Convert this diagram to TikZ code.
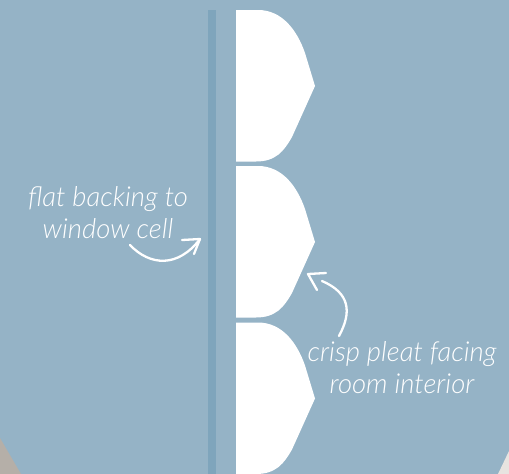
\documentclass[tikz,border=0pt]{standalone}
\usepackage{fontspec}
\setmainfont{Lato Light}
\definecolor{bgblue}{HTML}{95B3C6}
\definecolor{barblue}{HTML}{7FA5BC}
\definecolor{cornergray}{HTML}{B5AFA8}
\definecolor{cornerlight}{HTML}{E8E4E0}
\tikzset{
  pleat/.style={fill=white,draw=none},
  lbl/.style={text=white,font=\fontsize{27.5}{32}\selectfont\itshape,align=center,inner sep=0pt},
  callout/.style={draw=white,line width=2.3pt,line cap=round,line join=round}
}
\newcommand{\pleatshape}[1]{%
  \begin{scope}[yshift=-#1pt]
  \fill[pleat] (236,10) -- (258,10) .. controls (282,10) and (297,30) .. (305,53)
    -- (315,86) -- (292,137) .. controls (284,151) and (276,161.5) .. (256,161.5) -- (236,161.5) -- cycle;
  \end{scope}}
\begin{document}
\begin{tikzpicture}[x=1pt,y=-1pt]
\useasboundingbox (0,0) rectangle (509,474);
\fill[bgblue] (0,0) rectangle (509,474);
\fill[cornergray] (0,438) -- (21,474) -- (0,474) -- cycle;
\fill[cornerlight] (509,451) -- (498,474) -- (509,474) -- cycle;
\fill[barblue] (208,10) rectangle (215.7,474);
\pleatshape{0}
\pleatshape{156}
\begin{scope}
\clip (0,0) rectangle (509,474);
\pleatshape{312.5}
\end{scope}
\node[lbl] (backlabel) at (108,213) {flat backing to\\window cell};
\node[lbl] (pleatlabel) at (402,368) {crisp pleat facing\\room interior};
\coordinate (a1s) at (130,245);
\coordinate (a1e) at (200,239);
\coordinate (a2s) at (339,336);
\coordinate (a2e) at (308,274);
\draw[callout] (a1s) .. controls (150,266) and (178,268) .. (a1e);
\draw[callout] (182,240) -- (a1e) -- (194,254);
\draw[callout] (a2s) .. controls (352,312) and (350,293) .. (322,281);
\draw[callout] (326,273) -- (a2e) -- (317,290);
\end{tikzpicture}
\end{document}
